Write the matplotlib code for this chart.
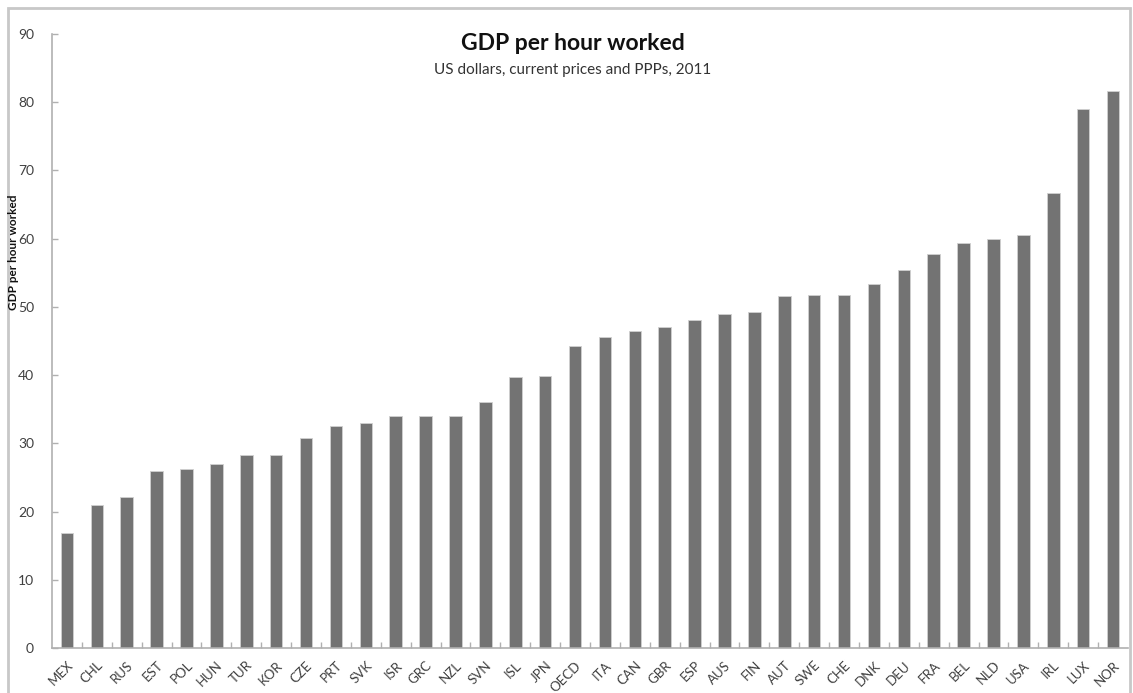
import numpy as np
import matplotlib.pyplot as plt
from matplotlib.patches import Rectangle

# GDP per hour worked, USD current prices and PPPs, 2011
countries = ["MEX", "CHL", "RUS", "EST", "POL", "HUN", "TUR", "KOR", "CZE", "PRT",
             "SVK", "ISR", "GRC", "NZL", "SVN", "ISL", "JPN", "OECD", "ITA", "CAN",
             "GBR", "ESP", "AUS", "FIN", "AUT", "SWE", "CHE", "DNK", "DEU", "FRA",
             "BEL", "NLD", "USA", "IRL", "LUX", "NOR"]
gdp_per_hour = [16.8, 20.9, 22.1, 26.0, 26.3, 26.9, 28.3, 28.3, 30.8, 32.6,
                33.0, 34.0, 34.0, 34.0, 36.1, 39.7, 39.9, 44.3, 45.6, 46.4,
                47.0, 48.1, 48.9, 49.3, 51.6, 51.8, 51.8, 53.4, 55.4, 57.7,
                59.3, 60.0, 60.5, 66.7, 79.0, 81.7]
y_ticks = [0, 10, 20, 30, 40, 50, 60, 70, 80, 90]

plt.rcParams['font.family'] = ['Lato', 'DejaVu Sans']

W, H = 1133, 693
fig = plt.figure(figsize=(W / 100, H / 100), dpi=100)
fig.patch.set_facecolor('white')

# thin grey frame around the chart area (bottom edge runs off the canvas)
fig.patches.append(Rectangle((8 / W, -0.05), (1130 - 8) / W, 1.05 - 8 / H,
                             transform=fig.transFigure, fill=False,
                             edgecolor='#c8c8c8', linewidth=2))

ax = fig.add_axes([52 / W, 1 - 648 / H, (1128 - 52) / W, (648 - 34) / H])

x = np.arange(len(countries))
ax.bar(x, gdp_per_hour, width=0.42, color='#737373', edgecolor='#d0d0d0',
       linewidth=0.6, zorder=2)

ax.set_xlim(-0.5, len(countries) - 0.5)
ax.set_ylim(0, 90)

for side in ['top', 'right']:
    ax.spines[side].set_visible(False)
for side in ['left', 'bottom']:
    ax.spines[side].set_color('#b0b0b0')
    ax.spines[side].set_linewidth(1.2)

ax.set_yticks(y_ticks)
ax.tick_params(axis='y', direction='in', length=4, width=1, color='#b0b0b0',
               labelsize=10, labelcolor='#404040', pad=13)

ax.set_xticks(x)
ax.set_xticklabels(countries, rotation=45, ha='right', rotation_mode='anchor',
                   fontsize=9.5, color='#404040')
ax.tick_params(axis='x', which='major', length=0, pad=8)
ax.set_xticks(np.arange(0.5, len(countries) - 0.5), minor=True)
ax.tick_params(axis='x', which='minor', direction='in', length=4, width=1,
               color='#b0b0b0')

fig.text(573 / W, 1 - 44 / H, "GDP per hour worked", ha='center', va='center',
         fontsize=16.5, fontweight='bold', color='#111111')
fig.text(573 / W, 1 - 70 / H, "US dollars, current prices and PPPs, 2011",
         ha='center', va='center', fontsize=11, color='#333333')
fig.text(14 / W, 1 - 252 / H, "GDP per hour worked", ha='center', va='center',
         rotation=90, fontsize=8.5, fontweight='bold', color='#111111')

fig.savefig('out.png', dpi=100)
